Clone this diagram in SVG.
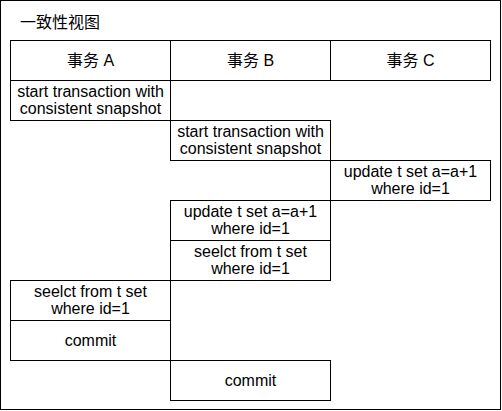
<svg xmlns="http://www.w3.org/2000/svg" width="502" height="411" viewBox="0 0 502 411">
<style>
rect.c{fill:#fff;stroke:#000;stroke-width:1}
text{font-family:"Liberation Sans","Noto Sans CJK SC",Arial,sans-serif;font-size:16px;fill:#000;text-anchor:middle}
text.t{text-anchor:start}
</style>
<rect x="0.5" y="0.5" width="500" height="409" fill="#fff" stroke="#000" stroke-width="1"/>
<text class="t" x="20" y="28">一致性视图</text>
<g id="headA"><rect class="c" x="10.5" y="40.5" width="160" height="40"/><text x="90.5" y="66">事务 A</text></g>
<g id="headB"><rect class="c" x="170.5" y="40.5" width="160" height="40"/><text x="250.5" y="66">事务 B</text></g>
<g id="headC"><rect class="c" x="330.5" y="40.5" width="160" height="40"/><text x="410.5" y="66">事务 C</text></g>
<g id="a1"><rect class="c" x="10.5" y="80.5" width="160" height="40"/><text x="90.5" y="97">start transaction with</text><text x="90.5" y="114">consistent snapshot</text></g>
<g id="b1"><rect class="c" x="170.5" y="120.5" width="160" height="40"/><text x="250.5" y="137">start transaction with</text><text x="250.5" y="154">consistent snapshot</text></g>
<g id="c1"><rect class="c" x="330.5" y="160.5" width="160" height="40"/><text x="410.5" y="177">update t set a=a+1</text><text x="410.5" y="194">where id=1</text></g>
<g id="b2"><rect class="c" x="170.5" y="200.5" width="160" height="40"/><text x="250.5" y="217">update t set a=a+1</text><text x="250.5" y="234">where id=1</text></g>
<g id="b3"><rect class="c" x="170.5" y="240.5" width="160" height="40"/><text x="250.5" y="257">seelct from t set</text><text x="250.5" y="274">where id=1</text></g>
<g id="a2"><rect class="c" x="10.5" y="280.5" width="160" height="40"/><text x="90.5" y="297">seelct from t set</text><text x="90.5" y="314">where id=1</text></g>
<g id="a3"><rect class="c" x="10.5" y="320.5" width="160" height="40"/><text x="90.5" y="346">commit</text></g>
<g id="b4"><rect class="c" x="170.5" y="360.5" width="160" height="40"/><text x="250.5" y="386">commit</text></g>
<g id="connectors"></g>
</svg>
